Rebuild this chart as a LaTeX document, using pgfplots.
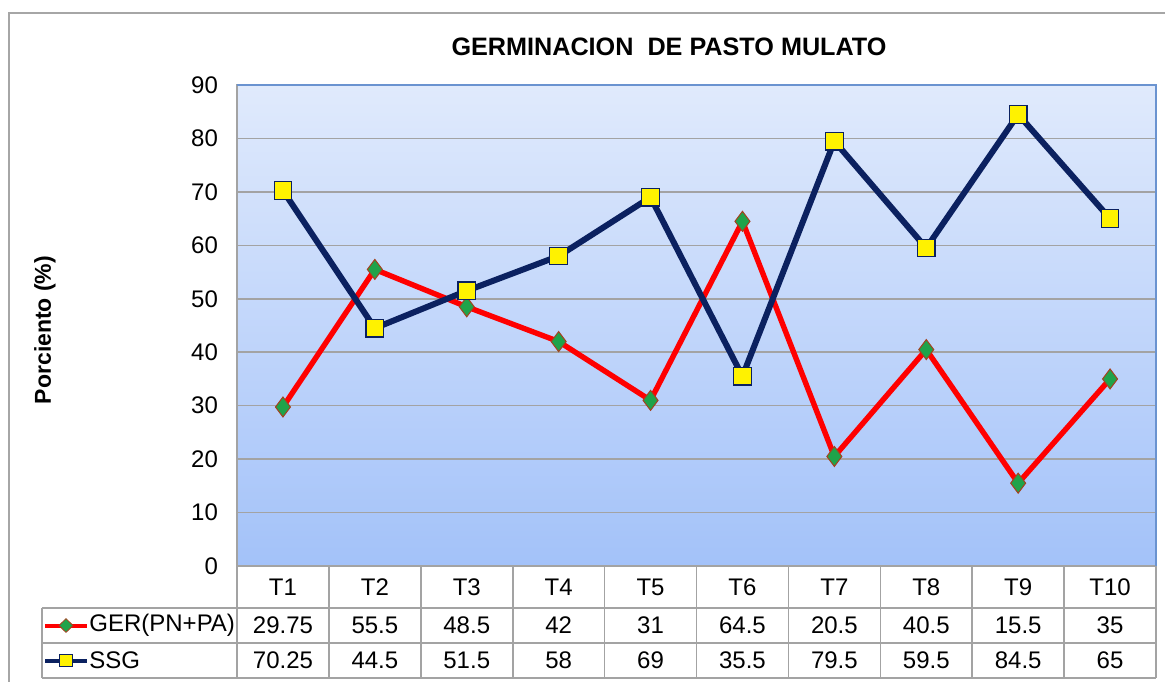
\documentclass[border=0pt]{standalone}
\usepackage{pgfplots}
\usepackage{pgfplotstable}
\pgfplotsset{compat=1.18}
\usepackage{fontspec}
\setmainfont{Liberation Sans}

\definecolor{navyline}{HTML}{0B2160}
\definecolor{redline}{HTML}{FF0000}
\definecolor{diag}{HTML}{1FA34A}
\definecolor{gridg}{HTML}{A3A3A3}
\definecolor{bgtop}{HTML}{E0EAFC}
\definecolor{bgbot}{HTML}{A3C2F9}
\definecolor{frameblue}{HTML}{6A93D0}

% germinacion (GER) y SSG por tratamiento
\pgfplotstableread{
x  ger    ssg
1  29.75  70.25
2  55.5   44.5
3  48.5   51.5
4  42     58
5  31     69
6  64.5   35.5
7  20.5   79.5
8  40.5   59.5
9  15.5   84.5
10 35     65
}\datos

\begin{document}
\begin{tikzpicture}[font=\fontsize{12}{14}\selectfont]
\path[use as bounding box] (0,0) rectangle (582.5pt,-340.5pt);
\draw[gray!70, line width=0.8pt] (4.5pt,-400pt) -- (4.5pt,-6.5pt) -- (700pt,-6.5pt);

\node[font=\fontsize{12.6}{14}\selectfont\bfseries] at (334.5pt,-23.5pt) {GERMINACION\ \ DE PASTO MULATO};
\node[rotate=90, font=\fontsize{11.5}{13}\selectfont\bfseries] at (22.5pt,-165pt) {Porciento (\%)};

\begin{axis}[at={(118.5pt,-283pt)}, anchor=south west,
  width=459.5pt, height=240.5pt, scale only axis,
  xmin=0.5, xmax=10.5, ymin=0, ymax=90,
  ytick={0,10,...,90}, xtick=\empty,
  ymajorgrids, grid style={gridg, line width=0.8pt},
  major tick length=0pt,
  axis line style={gridg, line width=0.8pt},
  axis background/.style={top color=bgtop, bottom color=bgbot},
  yticklabel style={font=\fontsize{12}{14}\selectfont, xshift=-6pt},
  /pgf/number format/assume math mode=true,
  clip=false]
\addplot[redline, line width=2.7pt, mark=diamond*, mark size=5pt,
  mark options={fill=diag, draw=redline!60!diag, line width=0.5pt}]
  table[x=x, y=ger]{\datos};
\addplot[navyline, line width=3pt, mark=square*, mark size=4.4pt,
  mark options={fill=yellow, draw=navyline, line width=0.6pt}]
  table[x=x, y=ssg]{\datos};
\draw[frameblue, line width=1pt] (rel axis cs:0,1) -- (rel axis cs:1,1) -- (rel axis cs:1,0);
\end{axis}

% tabla de datos
\foreach \i in {0,...,10}
  \draw[gridg, line width=0.8pt] ({118.5pt+\i*45.95pt},-283pt) -- ({118.5pt+\i*45.95pt},-339pt);
\draw[gridg, line width=0.8pt] (21pt,-304pt) -- (578pt,-304pt);
\draw[gridg, line width=0.8pt] (21pt,-321.5pt) -- (578pt,-321.5pt);
\draw[gridg, line width=0.8pt] (21pt,-339pt) -- (578pt,-339pt);
\draw[gridg, line width=0.8pt] (21pt,-304pt) -- (21pt,-339pt);

\foreach \r in {0,...,9}{
  \pgfplotstablegetelem{\r}{ger}\of\datos \let\gv\pgfplotsretval
  \pgfplotstablegetelem{\r}{ssg}\of\datos \let\sv\pgfplotsretval
  \pgfmathsetmacro\cx{118.5+(\r+0.5)*45.95}
  \pgfmathtruncatemacro\tn{\r+1}
  \node at (\cx pt,-293.5pt) {T\tn};
  \node at (\cx pt,-312.75pt) {\gv};
  \node at (\cx pt,-330.25pt) {\sv};
}

% leyenda
\draw[redline, line width=2pt] (22.5pt,-312.75pt) -- (43.5pt,-312.75pt);
\filldraw[fill=diag, draw=redline!60!diag, line width=0.4pt]
  (33pt,-309.3pt) -- (36.5pt,-312.75pt) -- (33pt,-316.2pt) -- (29.5pt,-312.75pt) -- cycle;
\node[anchor=west, inner sep=1pt] at (43.5pt,-312.75pt) {GER(PN+PA)};
\draw[navyline, line width=2pt] (22.5pt,-330.25pt) -- (43.5pt,-330.25pt);
\filldraw[fill=yellow, draw=navyline, line width=0.6pt]
  (29.8pt,-333.4pt) rectangle (36.2pt,-327.1pt);
\node[anchor=west, inner sep=1pt] at (43.5pt,-330.25pt) {SSG};
\end{tikzpicture}
\end{document}
